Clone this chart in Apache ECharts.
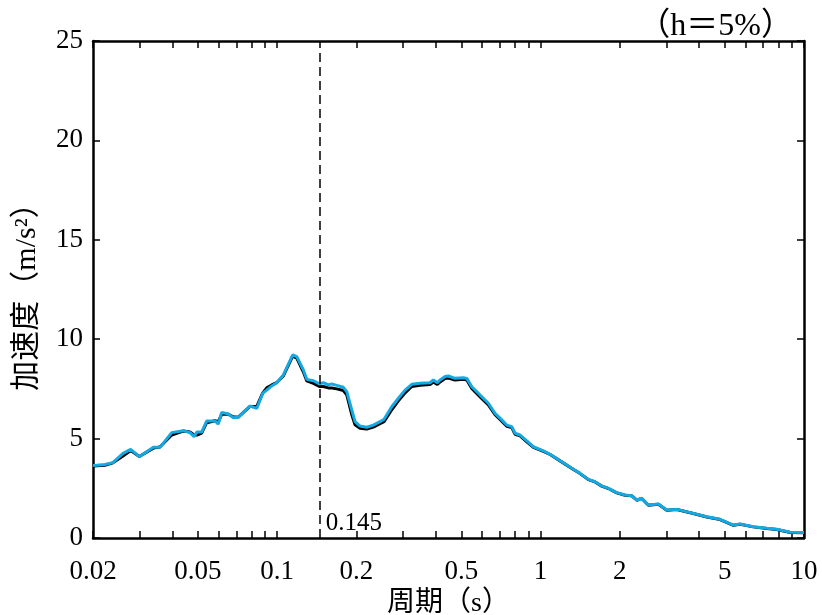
<!DOCTYPE html>
<html>
<head>
<meta charset="utf-8">
<script src="https://cdn.jsdelivr.net/npm/echarts@6/dist/echarts.min.js"></script>
<style>html,body{margin:0;padding:0;background:#fff}#c{width:822px;height:615px}</style>
</head>
<body>
<div id="c"></div>
<script>
const periods = [0.02,0.02066,0.0222,0.0238,0.0260,0.0278,0.0300,0.0339,0.0359,0.0398,
0.0440,0.0467,0.0484,0.0496,0.0517,0.0540,0.0581,0.0598,0.0616,0.0653,
0.0682,0.0712,0.0789,0.0837,0.0882,0.0913,0.0954,0.0997,0.1056,0.1146,
0.1187,0.1258,0.1296,0.1373,0.1447,0.1498,0.1565,0.1612,0.1684,0.1784,
0.1838,0.1920,0.1976,0.2064,0.2188,0.2318,0.2458,0.2546,0.2723,0.2886,
0.3060,0.3244,0.3488,0.3806,0.3918,0.4058,0.4154,0.4340,0.4467,0.4734,
0.5094,0.5248,0.5482,0.5894,0.6336,0.6718,0.7124,0.7442,0.7774,0.8002,
0.8360,0.8866,0.9392,1.025,1.087,1.186,1.333,1.413,1.518,1.610,
1.707,1.809,1.947,2.092,2.220,2.320,2.422,2.566,2.800,3.014,
3.289,3.802,4.276,4.802,5.394,5.722,6.424,7.226,7.882,8.858,10];

const accCyan = [3.65,3.66,3.70,3.79,4.26,4.46,4.09,4.56,4.56,5.30,
5.40,5.30,5.10,5.33,5.33,5.88,5.89,5.73,6.32,6.24,
6.05,6.07,6.64,6.52,7.28,7.44,7.65,7.81,8.20,9.21,
9.12,8.45,7.98,7.91,7.75,7.81,7.70,7.75,7.68,7.58,
7.36,6.44,5.85,5.63,5.57,5.68,5.85,5.97,6.60,7.03,
7.44,7.73,7.78,7.81,7.95,7.81,7.95,8.12,8.15,8.03,
8.06,8.03,7.61,7.19,6.78,6.27,5.94,5.68,5.60,5.27,
5.18,4.88,4.59,4.38,4.21,3.89,3.46,3.25,2.95,2.83,
2.62,2.50,2.28,2.16,2.13,1.91,2.00,1.66,1.71,1.41,
1.44,1.24,1.07,0.94,0.65,0.70,0.57,0.49,0.44,0.29,0.28];

const accBlack = [3.62,3.63,3.66,3.78,4.12,4.40,4.10,4.52,4.58,5.18,
5.38,5.33,5.18,5.18,5.28,5.80,5.90,5.85,6.22,6.22,
6.10,6.08,6.62,6.62,7.30,7.55,7.70,7.82,8.15,9.15,
9.05,8.35,7.90,7.78,7.62,7.62,7.55,7.55,7.50,7.42,
7.20,6.20,5.70,5.52,5.48,5.58,5.75,5.85,6.45,6.90,
7.30,7.62,7.68,7.72,7.85,7.72,7.85,8.02,8.05,7.95,
7.98,7.95,7.52,7.10,6.70,6.20,5.88,5.62,5.55,5.22,
5.14,4.84,4.56,4.36,4.20,3.88,3.45,3.24,2.94,2.82,
2.61,2.49,2.27,2.15,2.12,1.90,1.99,1.65,1.70,1.40,
1.43,1.23,1.06,0.93,0.64,0.69,0.56,0.48,0.43,0.28,0.27];

const xTickLabels = [0.02,0.05,0.1,0.2,0.5,1,2,5,10];
const xMinorTicks = [0.02,0.03,0.04,0.05,0.06,0.07,0.08,0.09,0.1,0.2,0.3,0.4,0.5,0.6,0.7,0.8,0.9,1,2,3,4,5,6,7,8,9,10];
const markPeriod = 0.145;
const markLabel = '0.145';
const titleText = '（h＝5%）';
const xName = '周期（s）';
const yName = '加速度（m/s²）';

const SERIF = "'Liberation Serif','DejaVu Serif','Noto Sans CJK SC',serif";
const lx = v => Math.log10(v);

const chart = echarts.init(document.getElementById('c'), null, {renderer:'canvas'});
const axisLine = {show:true, onZero:false, lineStyle:{color:'#000', width:2.5}};
const tickStyle = {show:true, inside:true, length:7, lineStyle:{color:'#000', width:1.5}};

const option = {
  animation:false,
  backgroundColor:'#fff',
  title:{text:titleText, right:24, top:6, textStyle:{fontFamily:SERIF, fontSize:32, fontWeight:'normal', color:'#000'}},
  grid:{left:93, right:18, top:41, bottom:77, containLabel:false, outerBoundsMode:'none'},
  xAxis:[{
    type:'value', min:lx(0.02), max:1, position:'bottom',
    axisLine: axisLine,
    axisTick: Object.assign({}, tickStyle, {customValues: xMinorTicks.map(lx)}),
    axisLabel:{customValues: xTickLabels.map(lx), margin:20, color:'#000', fontFamily:SERIF, fontSize:27,
      formatter: v => { let best = xTickLabels[0]; xTickLabels.forEach(t => { if (Math.abs(lx(t)-v) < Math.abs(lx(best)-v)) best = t; }); return String(best); }},
    splitLine:{show:false},
    name:xName, nameLocation:'middle', nameGap:46,
    nameTextStyle:{fontFamily:SERIF, fontSize:28, color:'#000'}
  },{
    type:'value', min:lx(0.02), max:1, position:'top',
    axisLine: axisLine,
    axisTick: Object.assign({}, tickStyle, {customValues: xMinorTicks.map(lx)}),
    axisLabel:{show:false}, splitLine:{show:false}
  }],
  yAxis:[{
    type:'value', min:0, max:25, interval:5, position:'left',
    axisLine: axisLine, axisTick: tickStyle,
    axisLabel:{margin:10, color:'#000', fontFamily:SERIF, fontSize:27},
    splitLine:{show:false},
    name:yName, nameLocation:'middle', nameGap:51,
    nameTextStyle:{fontFamily:SERIF, fontSize:30, color:'#000'}
  },{
    type:'value', min:0, max:25, interval:5, position:'right',
    axisLine: axisLine, axisTick: tickStyle,
    axisLabel:{show:false}, splitLine:{show:false}
  }],
  series:[{
    type:'line', name:'black', xAxisIndex:0, yAxisIndex:0, showSymbol:false, symbol:'none',
    data: periods.map((p,i)=>[lx(p), accBlack[i]]),
    lineStyle:{color:'#000', width:3}, z:2
  },{
    type:'line', name:'cyan', xAxisIndex:0, yAxisIndex:0, showSymbol:false, symbol:'none',
    data: periods.map((p,i)=>[lx(p), accCyan[i]]),
    lineStyle:{color:'#14a9e2', width:3}, z:3,
    markLine:{silent:true, symbol:['none','none'], animation:false,
      lineStyle:{color:'#000', type:[9,5], width:1.5},
      label:{show:false},
      data:[{xAxis: lx(markPeriod)}]},
    markPoint:{silent:true, symbol:'circle', symbolSize:0,
      data:[{coord:[lx(markPeriod), 0], value:markLabel}],
      label:{show:true, position:'right', distance:0, offset:[6,-15], formatter: markLabel,
        color:'#000', fontFamily:SERIF, fontSize:25}}
  }]
};
chart.setOption(option);
</script>
</body>
</html>
